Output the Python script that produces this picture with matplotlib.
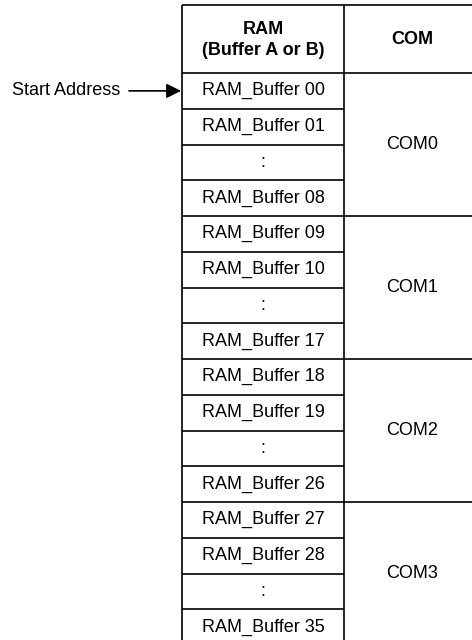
import matplotlib.pyplot as plt

plt.rcParams['font.family'] = ['Liberation Sans', 'DejaVu Sans']

# table content
ram_header = "RAM\n(Buffer A or B)"
com_header = "COM"
ram_rows = ["RAM_Buffer 00", "RAM_Buffer 01", ":", "RAM_Buffer 08",
            "RAM_Buffer 09", "RAM_Buffer 10", ":", "RAM_Buffer 17",
            "RAM_Buffer 18", "RAM_Buffer 19", ":", "RAM_Buffer 26",
            "RAM_Buffer 27", "RAM_Buffer 28", ":", "RAM_Buffer 35"]
com_groups = ["COM0", "COM1", "COM2", "COM3"]
rows_per_com = 4
pointer_label = "Start Address"

# layout in pixels (y down)
W, H = 472, 640
x0, x1, x2 = 182, 344, 480      # left edge, column split, right edge
y_top, y_head = 5, 73
row_h = 35.75
fs = 13
lw = 1.2

fig = plt.figure(figsize=(W / 100, H / 100), dpi=100)
ax = fig.add_axes([0, 0, 1, 1])
ax.set_xlim(0, W)
ax.set_ylim(H, 0)
ax.axis('off')

n = len(ram_rows)
y_bot = y_head + n * row_h

# outer frame + column split
ax.hlines(y_top, x0, x2, color='black', lw=lw)
ax.vlines([x0, x1, x2], y_top, y_bot, color='black', lw=lw)
ax.hlines(y_bot, x0, x2, color='black', lw=lw)
ax.hlines(y_head, x0, x2, color='black', lw=lw)

# headers
ax.text((x0 + x1) / 2, (y_top + y_head) / 2 + 1, ram_header, ha='center', va='center',
        fontsize=fs, fontweight='bold', linespacing=1.35)
ax.text((x1 + x2) / 2, (y_top + y_head) / 2 + 1, com_header, ha='center', va='center',
        fontsize=fs, fontweight='bold')

# RAM rows
for i, lab in enumerate(ram_rows):
    ytop = y_head + i * row_h
    if i > 0:
        ax.hlines(ytop, x0, x1, color='black', lw=lw)
    ax.text((x0 + x1) / 2, ytop + row_h / 2, lab, ha='center', va='center', fontsize=fs)

# COM groups
for g, lab in enumerate(com_groups):
    ytop = y_head + g * rows_per_com * row_h
    if g > 0:
        ax.hlines(ytop, x1, x2, color='black', lw=lw)
    ax.text((x1 + x2) / 2, ytop + rows_per_com * row_h / 2, lab,
            ha='center', va='center', fontsize=fs)

# start address pointer
ya = y_head + row_h / 2
ax.text(12, ya, pointer_label, ha='left', va='center', fontsize=fs)
ax.annotate("", xy=(x0 - 1, ya), xytext=(129, ya),
            arrowprops=dict(arrowstyle='-|>', color='black', lw=1.2,
                            mutation_scale=22, shrinkA=0, shrinkB=0))

fig.savefig("out.png", dpi=100)
